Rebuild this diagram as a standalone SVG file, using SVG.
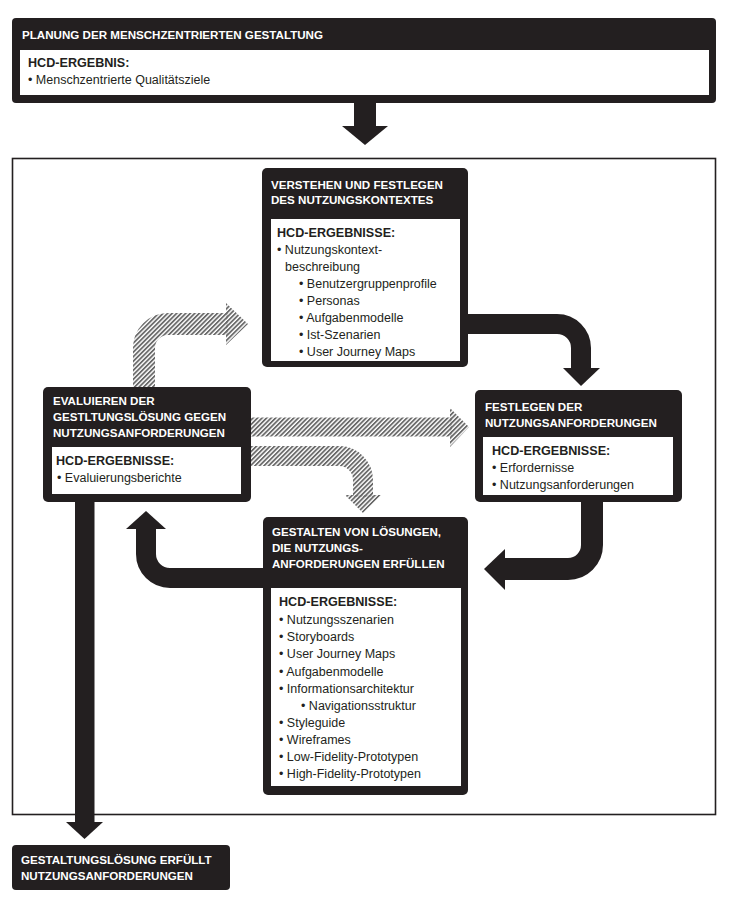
<svg xmlns="http://www.w3.org/2000/svg" width="731" height="909" viewBox="0 0 731 909">
<defs>
<pattern id="hatch" patternUnits="userSpaceOnUse" width="3.2" height="3.2" patternTransform="rotate(45)">
<rect x="0" y="0" width="1.8" height="3.2" fill="#6a6a6a"/>
</pattern>
<style>
.node{fill:#231f20}
.inner{fill:#fff}
.ttl{font-family:"Liberation Sans",Arial,sans-serif;font-weight:bold;font-size:11.6px;fill:#fff}
.hcd{font-family:"Liberation Sans",Arial,sans-serif;font-weight:bold;font-size:12.6px;fill:#231f20}
.txt{font-family:"Liberation Sans",Arial,sans-serif;font-size:12.5px;fill:#231f20}
.blk{fill:none;stroke:#231f20}
.blkh{fill:#231f20}
.hat{fill:none;stroke:url(#hatch)}
.hath{fill:url(#hatch)}
</style>
</defs>
<rect width="731" height="909" fill="#fff"/>
<rect id="frame" x="12.5" y="158.5" width="703" height="656" fill="#fff" stroke="#231f20" stroke-width="1.6"/>

<g id="connectors">
<!-- top arrow -->
<rect x="354" y="102" width="22" height="26" class="blkh"/>
<polygon points="342,126 388,126 365,145" class="blkh"/>
<!-- A: Verstehen -> Festlegen -->
<path d="M466,324 H557 A24,24 0 0 1 581,348 V370" class="blk" stroke-width="20"/>
<polygon points="563,368 600,368 581,386" class="blkh"/>
<!-- B: Festlegen -> Gestalten -->
<path d="M592,500 V545 A24,24 0 0 1 568,569 H503" class="blk" stroke-width="22"/>
<polygon points="505,549 505,590 484,569" class="blkh"/>
<!-- C: Gestalten -> Evaluieren -->
<path d="M265,578 H170 A24,24 0 0 1 146,554 V527" class="blk" stroke-width="20"/>
<polygon points="126,529 166,529 146,511" class="blkh"/>
<!-- Evaluieren -> Ergebnis -->
<rect x="75" y="500" width="19.5" height="324" class="blkh"/>
<polygon points="66,822 103,822 84.5,839" class="blkh"/>
<!-- D: Evaluieren -> Verstehen (hatched) -->
<path d="M144,387 V348 A24,24 0 0 1 168,324 H228" class="hat" stroke-width="22"/>
<polygon points="226,303 226,345 248,324" class="hath"/>
<!-- E: Evaluieren -> Festlegen (hatched) -->
<path d="M251,427 H452" class="hat" stroke-width="19"/>
<polygon points="450,408 450,447 469,427" class="hath"/>
<!-- F: Evaluieren -> Gestalten (hatched) -->
<path d="M251,456 H339 A24,24 0 0 1 363,480 V497" class="hat" stroke-width="20"/>
<polygon points="345,495 381,495 363,513" class="hath"/>
</g>

<g id="planung">
<rect x="12" y="18" width="704" height="85" rx="4" class="node"/>
<text x="22" y="39" class="ttl" font-size="11.5">PLANUNG DER MENSCHZENTRIERTEN GESTALTUNG</text>
<rect x="20" y="50" width="689" height="45" class="inner"/>
<text x="28" y="67" class="hcd">HCD-ERGEBNIS:</text>
<text x="28" y="84" class="txt">• Menschzentrierte Qualitätsziele</text>
</g>

<g id="verstehen">
<rect x="262" y="168" width="206" height="199" rx="5" class="node"/>
<text x="271" y="189" class="ttl">VERSTEHEN UND FESTLEGEN</text>
<text x="271" y="204" class="ttl">DES NUTZUNGSKONTEXTES</text>
<rect x="271" y="219" width="189" height="142" class="inner"/>
<text x="277" y="237" class="hcd">HCD-ERGEBNISSE:</text>
<text x="277" y="254" class="txt">• Nutzungskontext-</text>
<text x="285" y="271" class="txt">beschreibung</text>
<text x="299" y="288" class="txt">• Benutzergruppenprofile</text>
<text x="299" y="305" class="txt">• Personas</text>
<text x="299" y="322" class="txt">• Aufgabenmodelle</text>
<text x="299" y="339" class="txt">• Ist-Szenarien</text>
<text x="299" y="356" class="txt">• User Journey Maps</text>
</g>

<g id="festlegen">
<rect x="475" y="390" width="207" height="112" rx="5" class="node"/>
<text x="485" y="411" class="ttl">FESTLEGEN DER</text>
<text x="485" y="427" class="ttl">NUTZUNGSANFORDERUNGEN</text>
<rect x="483" y="437" width="190" height="58" class="inner"/>
<text x="492" y="455" class="hcd">HCD-ERGEBNISSE:</text>
<text x="492" y="472" class="txt">• Erfordernisse</text>
<text x="492" y="489" class="txt">• Nutzungsanforderungen</text>
</g>

<g id="evaluieren">
<rect x="43" y="387" width="208" height="115" rx="5" class="node"/>
<text x="53" y="405" class="ttl">EVALUIEREN DER</text>
<text x="53" y="421" class="ttl">GESTLTUNGSLÖSUNG GEGEN</text>
<text x="53" y="437" class="ttl">NUTZUNGSANFORDERUNGEN</text>
<rect x="52" y="447" width="189" height="47" class="inner"/>
<text x="56" y="465" class="hcd">HCD-ERGEBNISSE:</text>
<text x="57" y="482" class="txt">• Evaluierungsberichte</text>
</g>

<g id="gestalten">
<rect x="263" y="517" width="205" height="278" rx="5" class="node"/>
<text x="272" y="536" class="ttl">GESTALTEN VON LÖSUNGEN,</text>
<text x="272" y="552" class="ttl">DIE NUTZUNGS-</text>
<text x="272" y="568" class="ttl">ANFORDERUNGEN ERFÜLLEN</text>
<rect x="271" y="588" width="190" height="198" class="inner"/>
<text x="279" y="606" class="hcd">HCD-ERGEBNISSE:</text>
<text x="279" y="624" class="txt">• Nutzungsszenarien</text>
<text x="279" y="641" class="txt">• Storyboards</text>
<text x="279" y="658" class="txt">• User Journey Maps</text>
<text x="279" y="675.5" class="txt">• Aufgabenmodelle</text>
<text x="279" y="692.5" class="txt">• Informationsarchitektur</text>
<text x="301" y="709.5" class="txt">• Navigationsstruktur</text>
<text x="279" y="726.5" class="txt">• Styleguide</text>
<text x="279" y="744" class="txt">• Wireframes</text>
<text x="279" y="761" class="txt">• Low-Fidelity-Prototypen</text>
<text x="279" y="778" class="txt">• High-Fidelity-Prototypen</text>
</g>

<g id="ergebnis">
<rect x="12" y="845" width="218" height="45" rx="4" class="node"/>
<text x="21" y="864" class="ttl" font-size="11.5">GESTALTUNGSLÖSUNG ERFÜLLT</text>
<text x="21" y="880" class="ttl" font-size="11.5">NUTZUNGSANFORDERUNGEN</text>
</g>
</svg>
